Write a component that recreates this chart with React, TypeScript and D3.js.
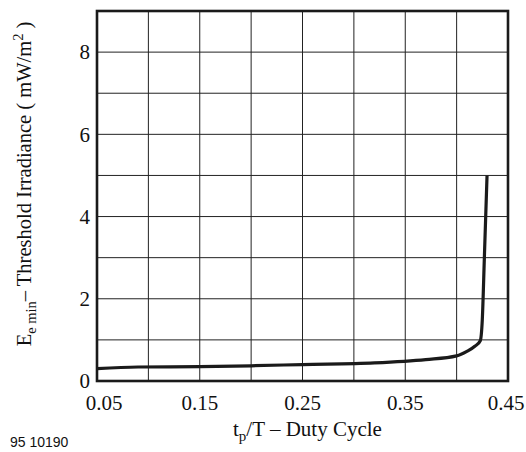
import * as d3 from 'd3'

// duty cycle vs. threshold irradiance
const dutyCycle = [0.05, 0.09, 0.15, 0.2, 0.25, 0.32, 0.37, 0.4, 0.41, 0.418, 0.423, 0.425, 0.427, 0.4296]
const irradiance = [0.3, 0.34, 0.35, 0.37, 0.4, 0.44, 0.52, 0.61, 0.72, 0.85, 0.98, 1.5, 3.0, 5.0]

const xTickLabels = ['0.05', '0.15', '0.25', '0.35', '0.45']
const yTickLabels = ['0', '2', '4', '6', '8']
const xGrid = [0.1, 0.15, 0.2, 0.25, 0.3, 0.35, 0.4]
const yGrid = [1, 2, 3, 4, 5, 6, 7, 8]

const W = 526
const H = 452
const margin = { top: 11, right: 18, bottom: 71, left: 97 }
const serif = { fontFamily: "'Liberation Serif', 'DejaVu Serif', serif" }

export default function App() {
  const iW = W - margin.left - margin.right
  const iH = H - margin.top - margin.bottom

  const x = d3.scaleLinear().domain([0.05, 0.45]).range([margin.left, margin.left + iW])
  const y = d3.scaleLinear().domain([0, 9]).range([margin.top + iH, margin.top])

  const pts = dutyCycle.map((d, i) => [d, irradiance[i]] as [number, number])
  const line = d3.line<[number, number]>()
    .x(d => x(d[0]))
    .y(d => y(d[1]))
    .curve(d3.curveMonotoneX)

  // first label sits a bit right of the axis, last a bit left (as in the datasheet)
  const nudge = (i: number) => (i === 0 ? 7 : i === xTickLabels.length - 1 ? -2 : 0)

  return (
    <svg width={W} height={H} style={{ display: 'block', position: 'absolute', left: 0, top: 0 }}>
      <rect x={0} y={0} width={W} height={H} fill="#fff" />

      {/* grid */}
      {xGrid.map(v => (
        <line key={'gx' + v} x1={x(v)} x2={x(v)} y1={y(0)} y2={y(9)} stroke="#222" strokeWidth={1} />
      ))}
      {yGrid.map(v => (
        <line key={'gy' + v} x1={x(0.05)} x2={x(0.45)} y1={y(v)} y2={y(v)} stroke="#222" strokeWidth={1} />
      ))}

      {/* curve */}
      <path d={line(pts) ?? ''} fill="none" stroke="#1a1a1a" strokeWidth={3.2} strokeLinejoin="round" />

      {/* frame */}
      <rect x={x(0.05)} y={y(9)} width={iW} height={iH} fill="none" stroke="#1a1a1a" strokeWidth={2.6} />

      {/* tick labels */}
      {xTickLabels.map((t, i) => (
        <text key={'tx' + t} x={x(+t) + nudge(i)} y={410} textAnchor="middle" style={serif} fontSize={21} fill="#111">
          {t}
        </text>
      ))}
      {yTickLabels.map(t => (
        <text key={'ty' + t} x={90} y={y(+t)} dy="0.35em" textAnchor="end" style={serif} fontSize={21} fill="#111">
          {t}
        </text>
      ))}

      {/* x title */}
      <text x={233} y={436} style={serif} fontSize={21} fill="#111">
        t<tspan dy={5} fontSize={15}>p</tspan>
        <tspan dy={-5}>/T – Duty Cycle</tspan>
      </text>

      {/* y title */}
      <text
        transform={`translate(31, 184) rotate(-90)`}
        textAnchor="middle"
        style={serif}
        fontSize={20.5}
        fill="#111"
      >
        E<tspan dy={5} fontSize={14.5}>e min</tspan>
        <tspan dy={-5}>– Threshold Irradiance ( mW/m</tspan>
        <tspan dy={-8} fontSize={14.5}>2</tspan>
        <tspan dy={8}> )</tspan>
      </text>

      <text x={10} y={447} style={{ fontFamily: "'Liberation Sans', Arial, sans-serif" }} fontSize={14} fill="#111">
        95 10190
      </text>
    </svg>
  )
}
